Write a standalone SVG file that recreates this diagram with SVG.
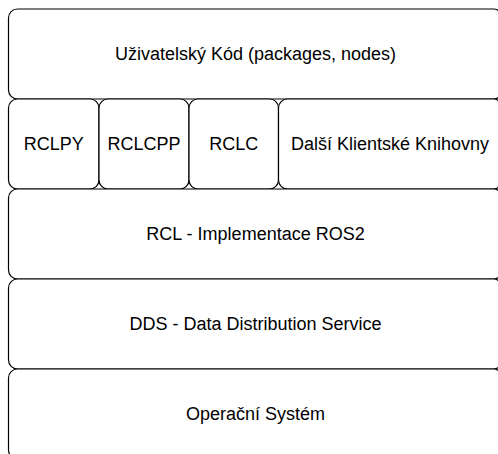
<svg xmlns="http://www.w3.org/2000/svg" width="498" height="454" viewBox="0 0 498 454">
<style>
.box{fill:#ffffff;stroke:#000000;stroke-width:1.2}
.lbl{font-family:"Liberation Sans",Arial,Helvetica,sans-serif;font-size:18px;fill:#000000;text-anchor:middle}
</style>
<rect x="0" y="0" width="498" height="454" fill="#ffffff"/>
<g id="uzivatelsky-kod"><rect class="box" x="8.5" y="9" width="494" height="90" rx="9" ry="9"/><text class="lbl" x="255.5" y="60">Uživatelský Kód (packages, nodes)</text></g>
<g id="rclpy"><rect class="box" x="8.5" y="99" width="90.5" height="90" rx="9" ry="9"/><text class="lbl" x="53.75" y="150">RCLPY</text></g>
<g id="rclcpp"><rect class="box" x="99" y="99" width="90" height="90" rx="9" ry="9"/><text class="lbl" x="144" y="150">RCLCPP</text></g>
<g id="rclc"><rect class="box" x="189" y="99" width="89.5" height="90" rx="9" ry="9"/><text class="lbl" x="233.75" y="150">RCLC</text></g>
<g id="dalsi"><rect class="box" x="278.5" y="99" width="224" height="90" rx="9" ry="9"/><text class="lbl" x="390" y="150">Další Klientské Knihovny</text></g>
<g id="rcl"><rect class="box" x="8.5" y="189" width="494" height="90" rx="9" ry="9"/><text class="lbl" x="255.5" y="240">RCL - Implementace ROS2</text></g>
<g id="dds"><rect class="box" x="8.5" y="279" width="494" height="90" rx="9" ry="9"/><text class="lbl" x="255.5" y="330">DDS - Data Distribution Service</text></g>
<g id="os"><rect class="box" x="8.5" y="369" width="494" height="90" rx="9" ry="9"/><text class="lbl" x="255.5" y="420">Operační Systém</text></g>
<g id="connectors"></g>
</svg>
